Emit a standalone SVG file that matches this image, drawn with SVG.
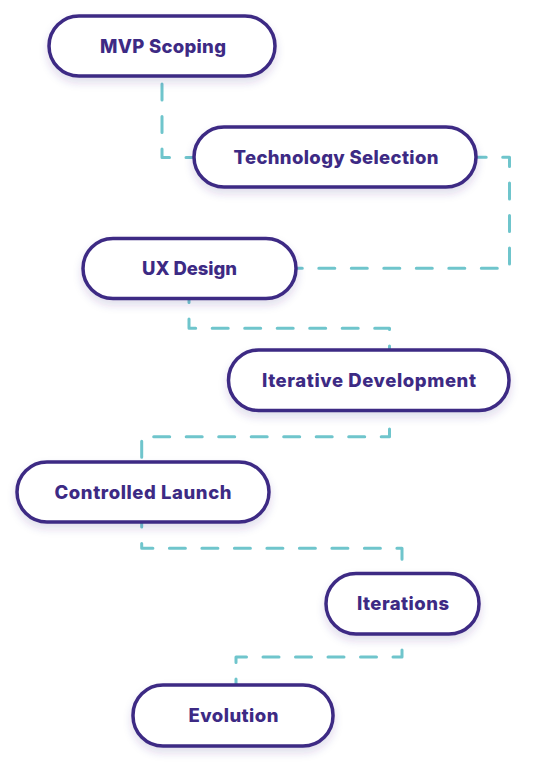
<svg xmlns="http://www.w3.org/2000/svg" width="540" height="770" viewBox="0 0 540 770">
<defs>
<filter id="sh" x="-20%" y="-30%" width="140%" height="170%">
<feDropShadow dx="0" dy="5" stdDeviation="4" flood-color="#3d2c86" flood-opacity="0.16"/>
</filter>
<style>
.node rect{fill:#ffffff;stroke:#3d2a84;stroke-width:3.5;filter:url(#sh)}
.node text{font-family:Inter,"Open Sans",sans-serif;font-weight:800;font-size:18.5px;fill:#3d2a84;text-anchor:middle}
.conn path{fill:none;stroke:#6fc5cc;stroke-width:3;stroke-dasharray:16 16.5;stroke-linecap:round;stroke-linejoin:round}
</style>
</defs>
<rect width="540" height="770" fill="#ffffff"/>
<g id="connectors" class="conn">
<path d="M162,84 V157.5 H194"/>
<path d="M470.2,157.3 H509.5 V268.3 H296"/>
<path d="M189,286.5 V328.3 H389.5 V350"/>
<path d="M389.5,429 V436.7 H141.7 V462"/>
<path d="M141.7,511 V548.3 H402 V573"/>
<path d="M402,650 V657 H236 V685"/>
</g>
<g id="mvp-scoping" class="node">
<rect x="49" y="16" width="226" height="60" rx="30"/>
<text x="163" y="52.7" textLength="126">MVP Scoping</text>
</g>
<g id="technology-selection" class="node">
<rect x="194" y="127" width="282" height="60" rx="30"/>
<text x="336" y="163.7" textLength="205">Technology Selection</text>
</g>
<g id="ux-design" class="node">
<rect x="83" y="238.5" width="213" height="60" rx="30"/>
<text x="189.5" y="275.2" textLength="95">UX Design</text>
</g>
<g id="iterative-development" class="node">
<rect x="228.5" y="350" width="280.5" height="60.5" rx="30"/>
<text x="369" y="387" textLength="214">Iterative Development</text>
</g>
<g id="controlled-launch" class="node">
<rect x="17" y="462" width="252" height="60" rx="30"/>
<text x="143" y="498.7" textLength="177">Controlled Launch</text>
</g>
<g id="iterations" class="node">
<rect x="326" y="573.5" width="153" height="60.5" rx="30"/>
<text x="403" y="610.2" textLength="92">Iterations</text>
</g>
<g id="evolution" class="node">
<rect x="133" y="685" width="200" height="61" rx="30"/>
<text x="233.5" y="722" textLength="90">Evolution</text>
</g>
</svg>
